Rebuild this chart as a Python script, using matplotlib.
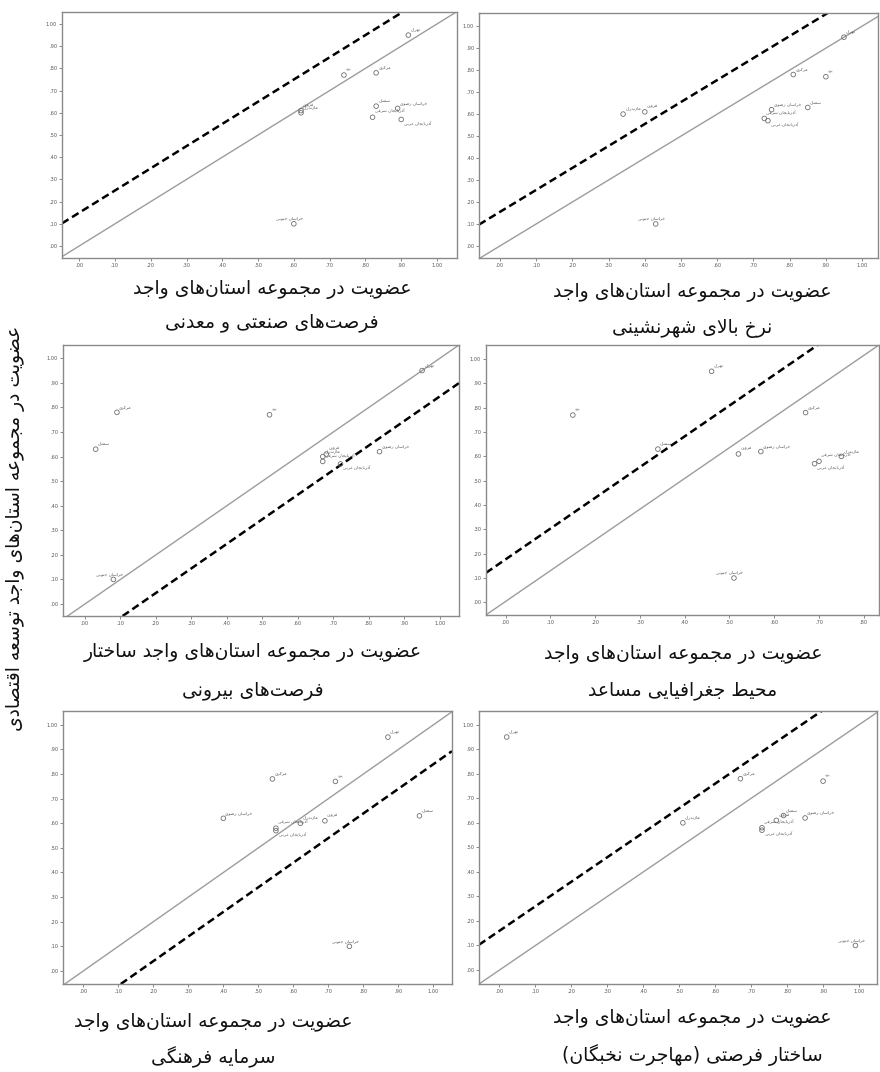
"""Six scatter panels: province membership in economic-development set vs. six factor sets."""
import matplotlib
matplotlib.use("Agg")
import matplotlib.pyplot as plt

plt.rcParams.update({"font.family": ["DejaVu Sans"], "lines.scale_dashes": False})

# ---- data ---------------------------------------------------------------
provinces = ["تهران", "مرکزی", "یزد", "سمنان", "خراسان رضوی", "قزوین",
             "مازندران", "آذربایجان شرقی", "آذربایجان غربی", "خراسان جنوبی"]
econ_dev = [0.95, 0.78, 0.77, 0.63, 0.62, 0.61, 0.60, 0.58, 0.57, 0.10]

industry_mining = [0.92, 0.83, 0.74, 0.83, 0.89, 0.62, 0.62, 0.82, 0.90, 0.60]
urbanisation    = [0.95, 0.81, 0.90, 0.85, 0.75, 0.40, 0.34, 0.73, 0.74, 0.43]
external_opps   = [0.95, 0.09, 0.52, 0.03, 0.83, 0.68, 0.67, 0.67, 0.72, 0.08]
geography       = [0.46, 0.67, 0.15, 0.34, 0.57, 0.52, 0.75, 0.70, 0.69, 0.51]
cultural_cap    = [0.87, 0.54, 0.72, 0.96, 0.40, 0.69, 0.62, 0.55, 0.55, 0.76]
elite_migration = [0.02, 0.67, 0.90, 0.79, 0.85, 0.77, 0.51, 0.73, 0.73, 0.99]

panel_x = [industry_mining, urbanisation, external_opps,
           geography, cultural_cap, elite_migration]
panel_titles = [
    ("عضویت در مجموعه استان‌های واجد", "فرصت‌های صنعتی و معدنی"),
    ("عضویت در مجموعه استان‌های واجد", "نرخ بالای شهرنشینی"),
    ("عضویت در مجموعه استان‌های واجد ساختار", "فرصت‌های بیرونی"),
    ("عضویت در مجموعه استان‌های واجد", "محیط جغرافیایی مساعد"),
    ("عضویت در مجموعه استان‌های واجد", "سرمایه فرهنگی"),
    ("عضویت در مجموعه استان‌های واجد", "ساختار فرصتی (مهاجرت نخبگان)"),
]
y_title = "عضویت در مجموعه استان‌های واجد توسعه اقتصادی"

# reference lines: solid diagonal and dashed offset line (slope, intercepts)
line_slope = [1.0, 1.0, 1.0, 1.264, 1.0, 1.0]
solid_icpt = [0.0, 0.0, 0.0, 0.004, 0.0, 0.0]
dash_icpt  = [0.15, 0.155, -0.155, 0.177, -0.16, 0.16]
x_tick_max = [1.0, 1.0, 1.0, 0.8, 1.0, 1.0]
x_limits = [(-0.048, 1.056), (-0.058, 1.044), (-0.062, 1.054),
            (-0.044, 0.834), (-0.058, 1.053), (-0.057, 1.05)]
y_limits = [(-0.054, 1.054), (-0.055, 1.06), (-0.049, 1.054),
            (-0.052, 1.058), (-0.053, 1.056), (-0.057, 1.056)]

# axes boxes in pixels: left, right, top, bottom
boxes_px = [(62, 457, 12, 258), (479, 878, 13, 258),
            (63, 459, 345, 616), (486, 879, 345, 615),
            (63, 452, 711, 984), (479, 877, 711, 984)]
title_px = [(272, 290, 323), (692, 292, 328), (253, 653, 690),
            (683, 655, 690), (213, 1022, 1057), (692, 1018, 1055)]

# label placement per province: (dx, dy, ha, va) in points
label_pos = {"آذربایجان غربی": (2.0, -1.5, "left", "top"),
             "خراسان جنوبی": (-3.0, 2.5, "center", "bottom")}

W, H = 880, 1072

# ---- minimal Persian shaping (matplotlib has no bidi / joining) ---------
_F = {
    "آ": ("\uFE81", "\uFE82", None, None), "ا": ("\uFE8D", "\uFE8E", None, None),
    "ب": ("\uFE8F", "\uFE90", "\uFE91", "\uFE92"), "پ": ("\uFB56", "\uFB57", "\uFB58", "\uFB59"),
    "ت": ("\uFE95", "\uFE96", "\uFE97", "\uFE98"), "ث": ("\uFE99", "\uFE9A", "\uFE9B", "\uFE9C"),
    "ج": ("\uFE9D", "\uFE9E", "\uFE9F", "\uFEA0"), "چ": ("\uFB7A", "\uFB7B", "\uFB7C", "\uFB7D"),
    "ح": ("\uFEA1", "\uFEA2", "\uFEA3", "\uFEA4"), "خ": ("\uFEA5", "\uFEA6", "\uFEA7", "\uFEA8"),
    "د": ("\uFEA9", "\uFEAA", None, None), "ذ": ("\uFEAB", "\uFEAC", None, None),
    "ر": ("\uFEAD", "\uFEAE", None, None), "ز": ("\uFEAF", "\uFEB0", None, None),
    "ژ": ("\uFB8A", "\uFB8B", None, None),
    "س": ("\uFEB1", "\uFEB2", "\uFEB3", "\uFEB4"), "ش": ("\uFEB5", "\uFEB6", "\uFEB7", "\uFEB8"),
    "ص": ("\uFEB9", "\uFEBA", "\uFEBB", "\uFEBC"), "ض": ("\uFEBD", "\uFEBE", "\uFEBF", "\uFEC0"),
    "ط": ("\uFEC1", "\uFEC2", "\uFEC3", "\uFEC4"), "ظ": ("\uFEC5", "\uFEC6", "\uFEC7", "\uFEC8"),
    "ع": ("\uFEC9", "\uFECA", "\uFECB", "\uFECC"), "غ": ("\uFECD", "\uFECE", "\uFECF", "\uFED0"),
    "ف": ("\uFED1", "\uFED2", "\uFED3", "\uFED4"), "ق": ("\uFED5", "\uFED6", "\uFED7", "\uFED8"),
    "ک": ("\uFB8E", "\uFB8F", "\uFB90", "\uFB91"), "گ": ("\uFB92", "\uFB93", "\uFB94", "\uFB95"),
    "ل": ("\uFEDD", "\uFEDE", "\uFEDF", "\uFEE0"), "م": ("\uFEE1", "\uFEE2", "\uFEE3", "\uFEE4"),
    "ن": ("\uFEE5", "\uFEE6", "\uFEE7", "\uFEE8"), "و": ("\uFEED", "\uFEEE", None, None),
    "ه": ("\uFEE9", "\uFEEA", "\uFEEB", "\uFEEC"), "ی": ("\uFBFC", "\uFBFD", "\uFBFE", "\uFBFF"),
}


def fa(s):
    def dual(c):
        return c in _F and _F[c][2] is not None
    out, i, n = [], 0, len(s)
    while i < n:
        c = s[i]
        if c not in _F:
            if c != "\u200c":
                out.append(c)
            i += 1
            continue
        jp = i > 0 and dual(s[i - 1])
        if c == "ل" and i + 1 < n and s[i + 1] == "ا":
            out.append("\uFEFC" if jp else "\uFEFB")
            i += 2
            continue
        jn = dual(c) and i + 1 < n and s[i + 1] in _F
        iso, fin, ini, med = _F[c]
        out.append(med if jp and jn else fin if jp else ini if jn else iso)
        i += 1
    return "".join(reversed(out)).translate(str.maketrans("()", ")("))


def fmt(v):
    s = f"{v:.2f}"
    return s.lstrip("0") if v < 1 else s


# ---- figure -------------------------------------------------------------
fig = plt.figure(figsize=(W / 100, H / 100), dpi=100)
frame_c = "#8a8a8a"

for k in range(6):
    l, r, t, b = boxes_px[k]
    ax = fig.add_axes([l / W, 1 - b / H, (r - l) / W, (b - t) / H])
    ax.set_xlim(*x_limits[k])
    ax.set_ylim(*y_limits[k])

    xs = panel_x[k]
    ax.scatter(xs, econ_dev, s=11, facecolors="none", edgecolors="#6f6f6f",
               linewidths=0.6, zorder=3)
    for name, xv, yv in zip(provinces, xs, econ_dev):
        dx, dy, ha, va = label_pos.get(name, (1.5, 2.5, "left", "bottom"))
        ax.annotate(fa(name), (xv, yv), xytext=(dx, dy), textcoords="offset points",
                    fontsize=3.2, color="#555555", ha=ha, va=va,
                    annotation_clip=False, clip_on=True)

    ax.axline((0, solid_icpt[k]), slope=line_slope[k], color="#9c9c9c", lw=1.0, zorder=1)
    ax.axline((0, dash_icpt[k]), slope=line_slope[k], color="black", lw=1.8,
              dashes=(5.5, 3.0), zorder=2)

    nt = int(round(x_tick_max[k] * 10)) + 1
    xt = [i / 10 for i in range(nt)]
    yt = [i / 10 for i in range(11)]
    ax.set_xticks(xt)
    ax.set_xticklabels([fmt(v) for v in xt])
    ax.set_yticks(yt)
    ax.set_yticklabels([fmt(v) for v in yt])
    ax.tick_params(length=2, width=0.6, color="#777777", labelsize=3.6,
                   labelcolor="#555555", pad=1.5)
    for sp in ax.spines.values():
        sp.set_color(frame_c)
        sp.set_linewidth(1.0)

    cx, y1, y2 = title_px[k]
    fig.text(cx / W, 1 - y1 / H, fa(panel_titles[k][0]), ha="center", va="center",
             fontsize=13.5, color="#111111")
    fig.text(cx / W, 1 - y2 / H, fa(panel_titles[k][1]), ha="center", va="center",
             fontsize=13.5, color="#111111")

fig.text(16 / W, 1 - 528 / H, fa(y_title), rotation=90, ha="center", va="center",
         fontsize=13.5, color="#111111")

fig.savefig("out.png", dpi=100)
